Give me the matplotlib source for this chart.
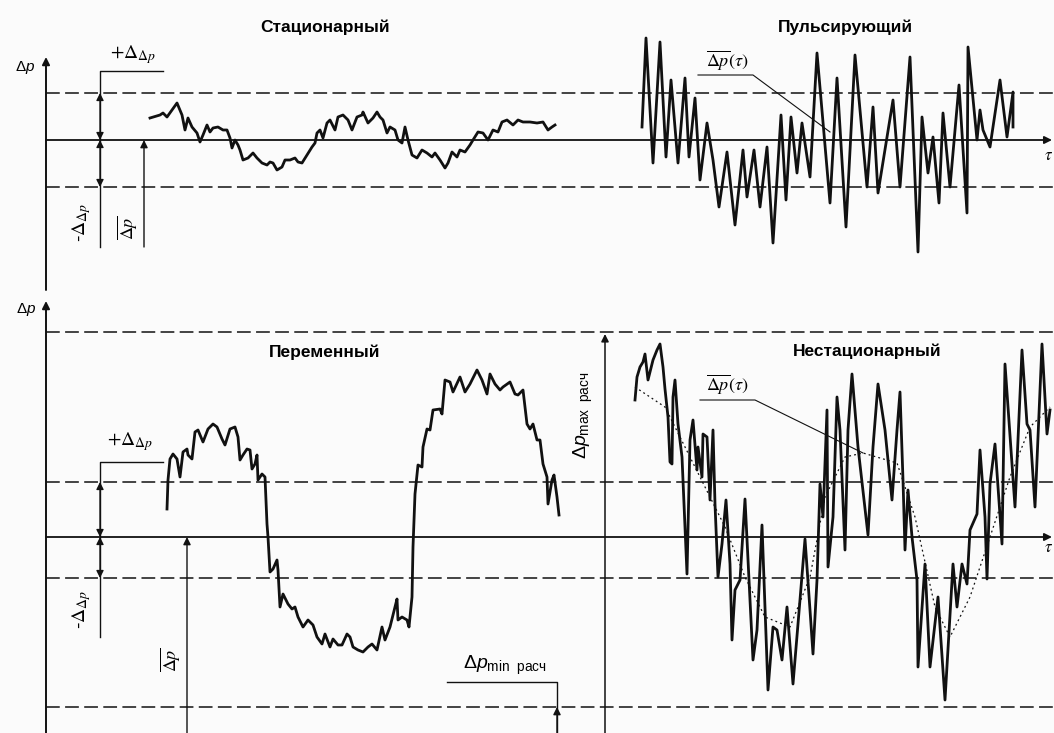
import matplotlib
matplotlib.use("Agg")
import matplotlib.pyplot as plt

# --- data (tau in arbitrary units, dp relative to mean level) ---
stat_tau = [105, 115, 118, 122, 127, 132, 137, 140, 143, 147, 152, 155, 158, 162, 165, 168, 173,
            178, 182, 185, 187, 190, 193, 195, 198, 203, 208, 212, 217, 222, 225, 228, 232, 237,
            240, 245, 250, 253, 257, 262, 267, 270, 272, 275, 278, 282, 285, 290, 293, 298, 303,
            307, 312, 317, 318, 323, 328, 332, 335, 338, 342, 345, 350, 353, 357, 360, 363, 367,
            372, 377, 382, 387, 390, 395, 400, 403, 407, 412, 415, 420, 425, 428, 433, 438, 443,
            448, 453, 457, 462, 468, 473, 478, 485, 492, 498, 503, 507, 510]
stat_dp = [22, 25, 27, 23, 30, 37, 25, 10, 22, 13, 7, -2, 5, 15, 8, 12, 13,
           10, 10, 2, -8, 0, -5, -10, -20, -18, -13, -18, -23, -25, -22, -23, -30, -27,
           -20, -20, -18, -22, -23, -15, -7, -3, 7, 10, 2, 17, 20, 10, 23, 25, 20,
           10, 23, 25, 28, 17, 22, 28, 23, 20, 7, 13, 10, 0, -3, 13, 0, -15,
           -18, -10, -13, -17, -13, -20, -28, -23, -12, -17, -10, -12, -5, 0, 8, 7, 0,
           10, 8, 18, 20, 15, 20, 18, 18, 17, 18, 10, 13, 15]

puls_tau = [597, 601, 608, 615, 621, 626, 633, 640, 644, 650, 655, 662, 668, 674, 682, 690, 698,
            702, 709, 715, 722, 728, 736, 741, 746, 752, 757, 765, 772, 785, 792, 801, 810, 822,
            828, 833, 848, 855, 865, 873, 877, 883, 888, 894, 898, 905, 914, 922, 923, 932, 935,
            938, 945, 955, 962, 968, 968]
puls_dp = [13, 102, -23, 98, -17, 60, -23, 62, -17, 42, -40, 17, -20, -67, -12, -85, -10,
           -57, -10, -67, -7, -103, 25, -60, 23, -33, 17, -37, 87, -63, 62, -87, 85, -47,
           33, -53, 40, -47, 83, -112, 23, -33, 3, -63, 27, -47, 55, -73, 93, 0, 30,
           10, -7, 60, 3, 48, 13]

var_tau = [122, 123, 125, 128, 132, 135, 138, 142, 143, 147, 150, 153, 158, 163, 168, 172, 177,
           180, 185, 190, 193, 195, 198, 202, 205, 207, 210, 212, 213, 217, 220, 222, 223, 225,
           228, 232, 233, 235, 238, 243, 247, 250, 253, 258, 263, 268, 272, 277, 280, 285, 288,
           293, 297, 302, 305, 308, 313, 318, 323, 327, 332, 337, 340, 345, 350, 352, 353, 357,
           362, 364, 367, 368, 370, 373, 377, 378, 382, 385, 388, 395, 397, 400, 405, 408, 415,
           420, 425, 432, 437, 442, 445, 450, 455, 458, 465, 470, 473, 478, 482, 485, 488, 492,
           495, 498, 502, 503, 507, 509, 512, 514]
var_dp = [28, 57, 78, 83, 78, 60, 85, 88, 82, 78, 105, 107, 95, 108, 113, 110, 98,
          92, 108, 110, 100, 77, 82, 88, 87, 68, 73, 82, 57, 63, 60, 13, 0, -35,
          -32, -23, -33, -70, -57, -67, -72, -70, -80, -90, -83, -88, -100, -107, -97, -110, -102,
          -108, -108, -97, -100, -110, -113, -115, -110, -107, -113, -90, -103, -90, -70, -62, -83, -80,
          -83, -90, -60, -10, 43, 72, 70, 90, 108, 107, 127, 128, 123, 157, 155, 145, 160,
          145, 153, 167, 157, 143, 163, 153, 147, 150, 155, 143, 142, 147, 113, 108, 113, 97,
          97, 73, 60, 33, 57, 62, 40, 22]

nonst_tau = [590, 592, 595, 598, 600, 603, 608, 612, 615, 618, 620, 623, 625, 627, 628, 630, 633,
             637, 642, 645, 648, 652, 653, 657, 658, 662, 665, 668, 670, 673, 677, 681, 685, 687,
             690, 695, 700, 705, 708, 712, 717, 723, 728, 732, 737, 742, 748, 753, 760, 765, 768,
             772, 775, 778, 782, 783, 788, 792, 795, 800, 803, 807, 813, 823, 828, 833, 840, 847,
             852, 855, 858, 860, 863, 867, 872, 873, 880, 885, 893, 900, 908, 912, 917, 922, 925,
             932, 935, 940, 942, 945, 950, 957, 960, 970, 977, 982, 985, 990, 997, 1002, 1005]
nonst_dp = [137, 160, 170, 175, 183, 157, 177, 187, 193, 170, 148, 120, 75, 73, 140, 157, 113,
            80, -37, 97, 117, 67, 90, 60, 103, 100, 37, 107, 33, -40, -7, 37, -27, -103,
            -53, -43, 38, -63, -123, -93, 12, -153, -90, -93, -123, -70, -147, -87, -2, -73, -117,
            -43, 53, 20, 127, -30, 20, 140, 107, -13, 107, 163, 90, 2, 90, 153, 107, 37,
            107, 145, 57, -13, 47, 0, -43, -130, -27, -130, -60, -163, -27, -70, -27, -47, 7,
            23, 87, 20, -42, 53, 93, -7, 173, 30, 187, 113, 107, 30, 193, 103, 127]

# slowly varying mean of the non-stationary process
trend_tau = [590, 620, 650, 680, 700, 720, 745, 765, 780, 800, 818, 852, 870, 890, 905, 925,
             945, 965, 985, 1005]
trend_dp = [150, 130, 70, 10, -40, -80, -90, -40, 40, 80, 84, 74, 20, -70, -100, -60,
            0, 60, 110, 130]

top_levels = [47, -47]
bot_levels = [205, 55, -41, -170]

INK = "#111111"
plt.rcParams["font.family"] = ["Liberation Sans", "DejaVu Sans"]
plt.rcParams["mathtext.fontset"] = "custom"
plt.rcParams["mathtext.rm"] = "Liberation Sans"
plt.rcParams["mathtext.it"] = "Liberation Sans:italic"

fig = plt.figure(figsize=(10.54, 7.33), dpi=100)
fig.patch.set_facecolor("#fbfbfb")
ax_t = fig.add_axes([0, 1 - 290 / 733, 1, 290 / 733])
ax_b = fig.add_axes([0, 0, 1, 443 / 733])
ax_t.set_xlim(-45, 1009)
ax_t.set_ylim(-150, 140)
ax_b.set_xlim(-45, 1009)
ax_b.set_ylim(-196, 247)
for ax in (ax_t, ax_b):
    ax.set_axis_off()
    ax.patch.set_alpha(0)


def arrow(ax, tail, tip, style="-|>", lw=1.1):
    ax.annotate("", xy=tip, xytext=tail, annotation_clip=False,
                arrowprops=dict(arrowstyle=style, lw=lw, color=INK,
                                mutation_scale=11, shrinkA=0, shrinkB=0))


dash = (0, (9, 3.5))
TRACE_LW = 2.0

# ---------------- top panel ----------------
for lv in top_levels:
    ax_t.plot([1, 1009], [lv, lv], color=INK, lw=1.1, ls=dash)
arrow(ax_t, (1, -150), (1, 83), lw=1.4)
arrow(ax_t, (1, 0), (1007, 0), lw=1.3)
ax_t.text(-20, 73, r"$\Delta p$", fontsize=11, ha="center", va="center")
ax_t.text(1004, -15, r"$\tau$", fontsize=12, ha="center", va="center", math_fontfamily="stix")

ax_t.plot([118, 55, 55], [69, 69, -107], color=INK, lw=1.0)
arrow(ax_t, (55, 0), (55, 47), style="<|-|>", lw=0.9)
arrow(ax_t, (55, -47), (55, 0), style="<|-|>", lw=0.9)
ax_t.text(88, 85, r"$+\Delta_{\Delta p}$", fontsize=14, ha="center", va="center",
          math_fontfamily="stix")
ax_t.text(37, -82, r"-$\Delta_{\Delta p}$", fontsize=14, ha="center", va="center",
          rotation=90, math_fontfamily="stix")
arrow(ax_t, (99, -107), (99, 0), lw=1.0)
ax_t.text(82, -88, r"$\overline{\Delta p}$", fontsize=13, ha="center", va="center",
          rotation=90, math_fontfamily="stix")

ax_t.plot(stat_tau, stat_dp, color=INK, lw=TRACE_LW)
ax_t.plot(puls_tau, puls_dp, color=INK, lw=TRACE_LW)

ax_t.text(280, 113, "Стационарный", fontsize=12.5, fontweight="bold", ha="center", va="center")
ax_t.text(800, 113, "Пульсирующий", fontsize=12.5, fontweight="bold", ha="center", va="center")
ax_t.text(682, 80, r"$\overline{\Delta p}(\tau)$", fontsize=13, ha="center", va="center",
          math_fontfamily="stix")
ax_t.plot([653, 708, 785], [65, 65, 8], color=INK, lw=0.8)

# ---------------- bottom panel ----------------
for lv in bot_levels:
    ax_b.plot([1, 1009], [lv, lv], color=INK, lw=1.1, ls=dash)
arrow(ax_b, (1, -196), (1, 236), lw=1.4)
arrow(ax_b, (1, 0), (1007, 0), lw=1.3)
ax_b.text(-19, 227, r"$\Delta p$", fontsize=11, ha="center", va="center")
ax_b.text(1004, -10, r"$\tau$", fontsize=12, ha="center", va="center", math_fontfamily="stix")

ax_b.plot([118, 55, 55], [75, 75, -100], color=INK, lw=1.0)
arrow(ax_b, (55, 0), (55, 55), style="<|-|>", lw=0.9)
arrow(ax_b, (55, -41), (55, 0), style="<|-|>", lw=0.9)
ax_b.text(85, 95, r"$+\Delta_{\Delta p}$", fontsize=14, ha="center", va="center",
          math_fontfamily="stix")
ax_b.text(37, -72, r"-$\Delta_{\Delta p}$", fontsize=14, ha="center", va="center",
          rotation=90, math_fontfamily="stix")
arrow(ax_b, (142, -196), (142, 0), lw=1.0)
ax_b.text(125, -123, r"$\overline{\Delta p}$", fontsize=13, ha="center", va="center",
          rotation=90, math_fontfamily="stix")

arrow(ax_b, (560, -196), (560, 203), lw=1.1)
ax_b.text(538, 122, r"$\Delta p_{\mathrm{max\ \ расч}}$", fontsize=14, ha="center",
          va="center", rotation=90)
ax_b.plot([402, 512, 512], [-145, -145, -196], color=INK, lw=1.0)
arrow(ax_b, (512, -196), (512, -170), lw=1.0)
ax_b.text(460, -128, r"$\Delta p_{\mathrm{min\ \ расч}}$", fontsize=14, ha="center",
          va="center")

ax_b.plot(var_tau, var_dp, color=INK, lw=TRACE_LW)
ax_b.plot(nonst_tau, nonst_dp, color=INK, lw=TRACE_LW)
ax_b.plot(trend_tau, trend_dp, color=INK, lw=0.9, ls=(0, (1.5, 2.5)))

ax_b.text(280, 185, "Переменный", fontsize=12.5, fontweight="bold", ha="center", va="center")
ax_b.text(822, 186, "Нестационарный", fontsize=12.5, fontweight="bold", ha="center", va="center")
ax_b.text(682, 153, r"$\overline{\Delta p}(\tau)$", fontsize=13, ha="center", va="center",
          math_fontfamily="stix")
ax_b.plot([655, 710, 818], [137, 137, 84], color=INK, lw=0.8)

fig.savefig("out.png", dpi=100, facecolor=fig.get_facecolor())
